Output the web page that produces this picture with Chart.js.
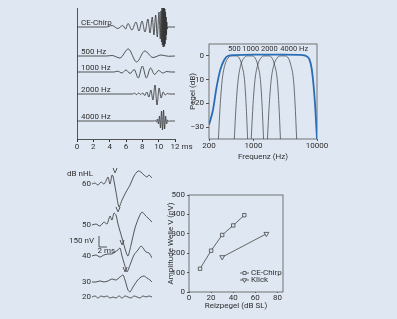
<!DOCTYPE html>
<html>
<head>
<meta charset="utf-8">
<script src="https://cdn.jsdelivr.net/npm/chart.js@4.4.1/dist/chart.umd.min.js"></script>
<style>
  html, body { margin: 0; padding: 0; background: #dfe7f2; }
  #wrap { position: relative; width: 397px; height: 319px; overflow: hidden; }
  #wrap canvas { position: absolute; left: 0; top: 0; }
</style>
</head>
<body>
<div id="wrap">
  <canvas id="stim-chart" width="397" height="319"></canvas>
  <canvas id="filter-chart" width="397" height="319"></canvas>
  <canvas id="abr-chart" width="397" height="319"></canvas>
  <canvas id="amp-chart" width="397" height="319"></canvas>
</div>
<script>
// ---- stimuli (top left), time in ms ----
var stimLabels = ['CE-Chirp', '500 Hz', '1000 Hz', '2000 Hz', '4000 Hz'];
var stimOffsets = [112, 83, 67, 45, 18];

var chirpT = [0, 3.6, 4.3, 5.0, 5.6, 5.95, 6.24, 6.73, 7.22, 7.59, 7.96, 8.32, 8.69, 8.94, 9.22, 9.42, 9.63, 9.83, 10.04, 10.2,
              10.28, 10.34, 10.4, 10.45, 10.5, 10.55, 10.6, 10.64, 10.68, 10.72, 10.76, 10.8, 10.84, 10.88, 10.92, 10.96, 11.0, 11.05, 11.12, 12];
var chirpV = [0, 0, 1.5, -1.5, 1.5, -2, 3.5, -3, 5, -4, 6, -5, 8, -6, 10, -8, 12, -10, 15, -12,
              16, -15, 19, -18, 21, -20, 21, -20, 20, -19, 18, -17, 15, -13, 10, -8, 5, -2, 0, 0];

var t500 = [0, 3.6, 4.3, 5.25, 6.28, 7.3, 8.3, 9.3, 10.3, 11.2, 12];
var v500 = [0, 0, 0.5, -2, 7, -6, 5, -1.5, 1, -0.3, 0];

var t1000 = [0, 4.5, 5.0, 5.5, 6.0, 6.5, 7.0, 7.5, 8.0, 8.5, 9.0, 9.5, 10, 10.5, 11, 11.5, 12];
var v1000 = [0, 0, 0.8, -1, 2, -1.5, 2.5, -6, 6, -6, 4, -2.5, 1.5, -1, 0.5, 0, 0];

var t2000 = [0, 6.8, 7.05, 7.3, 7.55, 7.8, 8.05, 8.3, 8.55, 8.8, 9.05, 9.3, 9.55, 9.8, 10.05, 10.3, 10.55, 10.8, 11.05, 11.3, 12];
var v2000 = [0, 0, 0.8, -0.6, 1, -0.5, 1, -1.5, 2, -3, 4, -6, 9, -11, 6, -4, 2, -1, 0.5, 0, 0];

var t4000 = [0, 9.45, 9.6, 9.725, 9.85, 9.975, 10.1, 10.225, 10.35, 10.475, 10.6, 10.725, 10.85, 10.975, 11.1, 11.225, 11.35, 12];
var v4000 = [0, 0, 0.5, -1, 2, -3, 5, -7, 10, -9, 11, -8, 5, -3, 1, -0.5, 0, 0];

var stimTicks = [0, 2, 4, 6, 8, 10, 12];

// ---- spectra (top right) ----
var specFreq = [200, 230, 260, 300, 350, 400, 500, 1000, 3000, 6000, 7000, 7600, 8200, 8800, 9400, 10000];
var specLevel = [-29, -23, -14, -6, -1.5, 0, 0.3, 0.5, 0.5, 0.3, -0.3, -1.5, -5, -12, -22, -35];

var bandNames = ['500', '1000', '2000', '4000 Hz'];
var bandLabelFreqs = [500, 905, 1780, 3600];
var bandFreqs = [
  [281, 301, 323, 354, 397, 446, 536, 601, 659, 723, 766, 811],
  [500, 536, 575, 630, 707, 793, 954, 1070, 1173, 1286, 1363, 1443],
  [922, 988, 1059, 1161, 1303, 1462, 1757, 1972, 2162, 2370, 2511, 2660],
  [1660, 1778, 1905, 2088, 2343, 2630, 3161, 3547, 3889, 4264, 4517, 4784]
];
var bandLevels = [-35, -20, -10, -4, -1, 0, 0, -1, -4, -10, -20, -35];
var freqTicks = [200, 1000, 10000];
var levelTicks = [-30, -20, -10, 0];

// ---- ABR traces (bottom left), ms and nV ----
var abrLevels = ['60', '50', '40', '30', '20'];
var abrOffsets = [1714, 1156, 735, 381, 177];
var abrT = [
  [0, 0.75, 1.5, 2.25, 3, 3.5, 4, 4.5, 5, 5.25, 6, 6.75, 7.5, 8.5, 9.5, 10.5, 11.5, 12.25, 13, 13.75, 14.25, 15],
  [0, 1, 2, 3, 3.75, 4.5, 5, 5.5, 6, 6.5, 7.5, 8.5, 9, 9.75, 10.75, 11.75, 12.5, 13.25, 14, 15],
  [0, 1, 2, 3, 4, 5, 5.75, 6.5, 7, 7.5, 8.25, 8.75, 9.5, 10.5, 11.5, 12.25, 12.75, 13.5, 14.25, 15],
  [0, 1, 2, 3, 4, 5, 6, 7, 7.75, 8.25, 9, 9.5, 10.25, 11.25, 12.25, 13, 13.75, 14.5, 15],
  [0, 0.75, 1.5, 2.25, 3, 3.75, 4.5, 5.25, 6, 6.75, 7.5, 8.25, 9, 9.75, 10.5, 11.25, 12, 12.75, 13.5, 14.25, 15]
];
var abrV = [
  [0, 14, -14, 27, 0, 41, 95, 0, 122, 109, -109, -313, -218, -109, -14, 109, 177, 163, 122, 95, 122, 82],
  [0, 14, -14, 41, 14, 122, 68, 163, 136, 14, -177, -367, -422, -272, -41, 109, 177, 136, 95, 41],
  [0, 14, -14, 14, 27, 27, 54, 82, 109, 0, -136, -218, -122, 14, 82, 136, 109, 54, 41, -27],
  [0, 0, 14, 0, 14, 41, 27, 68, 95, 27, -109, -136, -68, 14, 68, 82, 54, 27, 0],
  [0, 14, -14, 14, 0, 14, -14, 0, -14, 14, -14, 14, 0, -14, 14, 0, -14, 14, 0, 14, 0]
];
var waveVTimes = [5.25, 6, 7, 7.75];
var scaleBarNv = 150;
var scaleBarMs = 2;

// ---- amplitude vs level (bottom right) ----
var chirpLevels = [10, 20, 30, 40, 50];
var chirpAmps = [120, 213, 294, 343, 396];
var clickLevels = [30, 70];
var clickAmps = [180, 300];

var BG = '#dfe7f2';
var INK = '#2e2e2e';
var FONT = "8px Roboto, 'Open Sans', sans-serif";

Chart.defaults.font.family = "Roboto, 'Open Sans', sans-serif";
Chart.defaults.font.size = 8;
Chart.defaults.color = INK;
Chart.defaults.animation = false;
Chart.defaults.responsive = false;
Chart.defaults.plugins.legend.display = false;
Chart.defaults.plugins.tooltip.enabled = false;
Chart.defaults.elements.point.radius = 0;
Chart.defaults.elements.line.borderWidth = 0.8;

function fixW(w) {
  return function(s) { s.width = w; s.paddingTop = 0; s.paddingBottom = 0; };
}
function fixH(h) {
  return function(s) { s.height = h; s.paddingLeft = 0; s.paddingRight = 0; };
}
function setTicks(list) {
  return function(s) { s.ticks = list.map(function(v) { return { value: v }; }); };
}
function pts(xs, ys, off) {
  return xs.map(function(x, i) { return { x: x, y: ys[i] + (off || 0) }; });
}
function minus(v) { return String(v).replace('-', '\u2212'); }

var framePlugin = {
  id: 'frame',
  beforeDatasetsDraw: function(chart) {
    var a = chart.chartArea, ctx = chart.ctx;
    ctx.save();
    ctx.strokeStyle = '#555';
    ctx.lineWidth = 0.8;
    ctx.strokeRect(a.left, a.top, a.right - a.left, a.bottom - a.top);
    ctx.restore();
  }
};

// ---------- top left ----------
new Chart(document.getElementById('stim-chart'), {
  type: 'line',
  data: {
    datasets: stimLabels.map(function(name, k) {
      var ts = [chirpT, t500, t1000, t2000, t4000][k];
      var vs = [chirpV, v500, v1000, v2000, v4000][k];
      return { label: name, data: pts(ts, vs, stimOffsets[k]), borderColor: INK, borderWidth: 0.8, cubicInterpolationMode: 'monotone' };
    })
  },
  options: {
    layout: { padding: { left: 67, top: 8, right: 222, bottom: 160 } },
    scales: {
      x: {
        type: 'linear', min: 0, max: 12,
        afterBuildTicks: setTicks(stimTicks), afterFit: fixH(20),
        grid: { drawOnChartArea: false, tickLength: 3, color: INK },
        border: { color: INK, width: 0.8 },
        ticks: { padding: 0, maxRotation: 0 }
      },
      y: {
        min: 0, max: 131, afterFit: fixW(10),
        grid: { display: false },
        border: { color: INK, width: 0.8 },
        ticks: { display: false }
      }
    }
  },
  plugins: [{
    id: 'stimText',
    afterDraw: function(chart) {
      var ctx = chart.ctx, xs = chart.scales.x, ys = chart.scales.y;
      ctx.save();
      ctx.fillStyle = INK;
      ctx.font = FONT;
      ctx.textBaseline = 'bottom';
      stimLabels.forEach(function(name, k) {
        ctx.fillText(name, xs.getPixelForValue(0.5), ys.getPixelForValue(stimOffsets[k]) - 0.5);
      });
      ctx.textBaseline = 'middle';
      ctx.fillText('ms', xs.getPixelForValue(12) + 6.5, xs.bottom - 12.5);
      ctx.restore();
    }
  }]
});

// ---------- top right ----------
var filterSets = [{
  data: pts(specFreq, specLevel), borderColor: '#2a6db5', borderWidth: 1.8, cubicInterpolationMode: 'monotone'
}];
bandFreqs.forEach(function(fs) {
  filterSets.push({ data: pts(fs, bandLevels), borderColor: '#3a3a3a', borderWidth: 0.7, cubicInterpolationMode: 'monotone' });
});

new Chart(document.getElementById('filter-chart'), {
  type: 'line',
  data: { datasets: filterSets },
  options: {
    layout: { padding: { left: 188, top: 44, right: 80, bottom: 157 } },
    scales: {
      x: {
        type: 'logarithmic', min: 200, max: 10000,
        afterBuildTicks: setTicks(freqTicks), afterFit: fixH(23),
        grid: { drawOnChartArea: false, tickLength: 2, color: '#555' },
        border: { display: false },
        ticks: { padding: 0, maxRotation: 0, callback: function(v) { return String(v); } },
        title: { display: true, text: 'Frequenz (Hz)', padding: 0 }
      },
      y: {
        min: -35, max: 5,
        afterBuildTicks: setTicks(levelTicks), afterFit: fixW(21),
        grid: { drawOnChartArea: false, tickLength: 3, color: '#555' },
        border: { display: false },
        ticks: { padding: 2, callback: minus },
        title: { display: true, text: 'Pegel (dB)', padding: 0 }
      }
    }
  },
  plugins: [framePlugin, {
    id: 'bandText',
    afterDraw: function(chart) {
      var ctx = chart.ctx, xs = chart.scales.x;
      ctx.save();
      ctx.fillStyle = INK;
      ctx.font = "7.5px Roboto, 'Open Sans', sans-serif";
      ctx.textBaseline = 'middle';
      bandNames.forEach(function(name, k) {
        var w = ctx.measureText(name.split(' ')[0]).width;
        ctx.fillText(name, xs.getPixelForValue(bandLabelFreqs[k]) - w / 2, chart.chartArea.top + 5.5);
      });
      ctx.restore();
    }
  }]
});

// ---------- bottom left ----------
var abrSets = abrT.map(function(ts, k) {
  return { data: pts(ts, abrV[k], abrOffsets[k]), borderColor: INK, borderWidth: 0.8, tension: 0.25 };
});
// scale bar anchored beside the 50 dB trace
abrSets.push({
  data: [{ x: 1.75 + scaleBarMs, y: 857 }, { x: 1.75, y: 857 }, { x: 1.75, y: 857 + scaleBarNv }],
  borderColor: INK, borderWidth: 0.8
});

new Chart(document.getElementById('abr-chart'), {
  type: 'line',
  data: { datasets: abrSets },
  options: {
    layout: { padding: { left: 92, top: 163, right: 245, bottom: 9 } },
    scales: {
      x: { type: 'linear', min: 0, max: 15, display: false },
      y: { min: 0, max: 2000, display: false }
    }
  },
  plugins: [{
    id: 'abrText',
    afterDraw: function(chart) {
      var ctx = chart.ctx, xs = chart.scales.x, ys = chart.scales.y;
      ctx.save();
      ctx.fillStyle = INK;
      ctx.font = FONT;
      ctx.textBaseline = 'middle';
      ctx.textAlign = 'right';
      abrLevels.forEach(function(name, k) {
        ctx.fillText(name, xs.left - 1, ys.getPixelForValue(abrOffsets[k]));
      });
      ctx.fillText('dB nHL', xs.left + 1, ys.getPixelForValue(abrOffsets[0]) - 10);
      ctx.fillText('150 nV', xs.getPixelForValue(1.75) - 5, ys.getPixelForValue(857 + scaleBarNv / 2));
      ctx.textAlign = 'left';
      ctx.fillText('2 ms', xs.getPixelForValue(1.4), ys.getPixelForValue(857) + 4);
      ctx.textAlign = 'center';
      ctx.textBaseline = 'bottom';
      waveVTimes.forEach(function(t, k) {
        var i = abrT[k].indexOf(t);
        ctx.fillText('V', xs.getPixelForValue(t) + 2, ys.getPixelForValue(abrV[k][i] + abrOffsets[k]) - 1);
      });
      ctx.restore();
    }
  }]
});

// ---------- bottom right ----------
new Chart(document.getElementById('amp-chart'), {
  type: 'line',
  data: {
    datasets: [{
      label: 'CE-Chirp', data: pts(chirpLevels, chirpAmps),
      borderColor: '#444', borderWidth: 0.8,
      pointStyle: 'rect', pointRadius: 2.4, pointBackgroundColor: BG, pointBorderColor: '#444', pointBorderWidth: 0.8
    }, {
      label: 'Klick', data: pts(clickLevels, clickAmps),
      borderColor: '#444', borderWidth: 0.8,
      pointStyle: 'triangle', pointRotation: 180, pointRadius: 2.8, pointBackgroundColor: BG, pointBorderColor: '#444', pointBorderWidth: 0.8
    }]
  },
  options: {
    layout: { padding: { left: 166, top: 195, right: 114, bottom: 8 } },
    scales: {
      x: {
        type: 'linear', min: 0, max: 85,
        afterBuildTicks: setTicks([0, 20, 40, 60, 80]), afterFit: fixH(19),
        grid: { drawOnChartArea: false, tickLength: 1, color: '#555' },
        border: { display: false },
        ticks: { padding: 0, maxRotation: 0 },
        title: { display: true, text: 'Reizpegel (dB SL)', padding: 0 }
      },
      y: {
        min: 0, max: 500,
        afterBuildTicks: setTicks([0, 100, 200, 300, 400, 500]), afterFit: fixW(23),
        grid: { drawOnChartArea: false, tickLength: 2, color: '#555' },
        border: { display: false },
        ticks: { padding: 2 },
        title: { display: true, text: 'Amplitude Welle V (nV)', padding: 0 }
      }
    }
  },
  plugins: [framePlugin, {
    id: 'ampLegend',
    afterDraw: function(chart) {
      var ctx = chart.ctx;
      var x0 = 240, rows = [273, 280];
      ctx.save();
      chart.data.datasets.forEach(function(ds, k) {
        var y = rows[k];
        ctx.strokeStyle = '#444';
        ctx.lineWidth = 0.8;
        ctx.beginPath(); ctx.moveTo(x0, y); ctx.lineTo(x0 + 9, y); ctx.stroke();
        ctx.fillStyle = BG;
        Chart.helpers.drawPoint(ctx, {
          pointStyle: ds.pointStyle, rotation: ds.pointRotation || 0, radius: ds.pointRadius * 0.9, borderWidth: 0.8
        }, x0 + 4.5, y);
        ctx.fillStyle = INK;
        ctx.font = FONT;
        ctx.textBaseline = 'middle';
        ctx.fillText(ds.label, x0 + 11, y);
      });
      ctx.restore();
    }
  }]
});
</script>
</body>
</html>
